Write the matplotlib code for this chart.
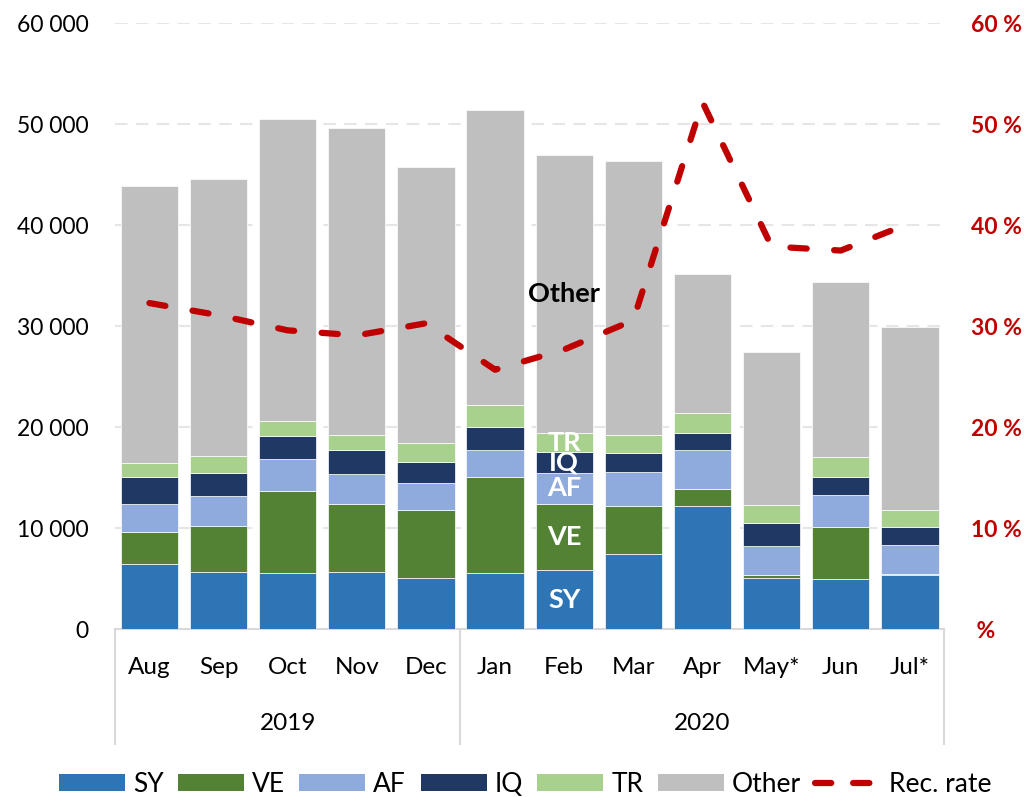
import matplotlib
matplotlib.use("Agg")
import matplotlib.pyplot as plt
from matplotlib.lines import Line2D
from matplotlib.patches import Patch
import numpy as np

plt.rcParams['font.family'] = ['Lato', 'DejaVu Sans']

months = ["Aug", "Sep", "Oct", "Nov", "Dec", "Jan", "Feb", "Mar", "Apr", "May*", "Jun", "Jul*"]
years = ["2019", "2020"]
year_counts = [5, 7]

SY = [6500, 5700, 5570, 5700, 5080, 5570, 5840, 7480, 12200, 5110, 4950, 5380]
VE = [3130, 4560, 8120, 6740, 6700, 9540, 6600, 4700, 1650, 240, 5210, 130]
AF = [2800, 2910, 3170, 2910, 2670, 2640, 3040, 3430, 3890, 2900, 3170, 2870]
IQ = [2670, 2310, 2310, 2400, 2080, 2310, 2050, 1820, 1650, 2280, 1780, 1780]
TR = [1390, 1650, 1480, 1520, 1880, 2150, 1880, 1840, 2040, 1750, 1920, 1650]
TOTAL = [43890, 44550, 50500, 49600, 45800, 51390, 46930, 46340, 35150, 27430, 34390, 29930]
OTHER = [t - (a + b + c + d + e) for t, a, b, c, d, e in zip(TOTAL, SY, VE, AF, IQ, TR)]
REC_RATE = [0.323, 0.311, 0.296, 0.291, 0.303, 0.257, 0.277, 0.306, 0.522, 0.379, 0.375, 0.402]

series_names = ["SY", "VE", "AF", "IQ", "TR", "Other"]
series_vals = [SY, VE, AF, IQ, TR, OTHER]
colors = ["#2E75B6", "#548235", "#8FAADC", "#203864", "#A9D18E", "#BFBFBF"]
line_color = "#C00000"

left_ticks = [0, 10000, 20000, 30000, 40000, 50000, 60000]
left_labels = ["0", "10 000", "20 000", "30 000", "40 000", "50 000", "60 000"]
right_ticks = [0, 0.1, 0.2, 0.3, 0.4, 0.5, 0.6]
right_labels = [" %", "10 %", "20 %", "30 %", "40 %", "50 %", "60 %"]

FS_TICK = 16.5
FS_CAT = 17.5
FS_IN = 19.5
FS_LEG = 19

fig = plt.figure(figsize=(10.30, 7.97), dpi=100)
ax = fig.add_axes([0.1115, 0.2104, 0.8054, 0.7604])

x = np.arange(len(months))
bottom = np.zeros(len(months))
for name, vals, c in zip(series_names, series_vals, colors):
    ax.bar(x, vals, width=0.83, bottom=bottom, color=c, edgecolor="white",
           linewidth=0.5, label=name, zorder=2)
    bottom += np.array(vals)

ax.set_xlim(-0.5, len(months) - 0.5)
ax.set_ylim(0, 60000)
ax.set_yticks(left_ticks)
ax.set_yticklabels(left_labels, fontsize=FS_TICK)
ax.tick_params(axis="y", length=0, pad=19)
ax.set_xticks([])
for t in left_ticks[1:]:
    ax.axhline(t, color="#E6E6E6", lw=1.5, ls=(0, (6, 4)), zorder=0)
for s in ax.spines.values():
    s.set_visible(False)

# in-bar labels on Feb
fi = months.index("Feb")
cum = 0
for name, vals in zip(series_names, series_vals):
    mid = cum + vals[fi] / 2
    cum += vals[fi]
    col = "black" if name == "Other" else "white"
    ax.text(x[fi], mid, name, ha="center", va="center", fontsize=FS_IN,
            fontweight="bold", color=col, zorder=5)

ax2 = ax.twinx()
ax2.plot(x, REC_RATE, color=line_color, lw=4.5, ls=(0, (2.6, 4.4)),
         dash_capstyle="round", solid_capstyle="round", zorder=3)
ax2.set_ylim(0, 0.6)
ax2.set_yticks(right_ticks)
ax2.set_yticklabels(right_labels, fontsize=FS_TICK, fontweight="bold", color=line_color)
ax2.tick_params(axis="y", length=0, pad=19.5)
for s in ax2.spines.values():
    s.set_visible(False)

# two-level category axis
trans = ax.get_xaxis_transform()
gc = "#D9D9D9"
axh = ax.get_position().height * fig.get_figheight() * 100  # axes height in px
def py(px):  # px below axis bottom -> axes fraction
    return -px / axh
ax.add_line(Line2D([-0.5, len(months) - 0.5], [0, 0], transform=trans, color=gc, lw=1.5, clip_on=False, zorder=1))
bounds = [-0.5]
for n in year_counts:
    bounds.append(bounds[-1] + n)
for b in bounds:
    ax.add_line(Line2D([b, b], [0, py(115)], transform=trans, color=gc, lw=1.5, clip_on=False))
for i, m in enumerate(months):
    ax.text(x[i], py(38), m, transform=trans, ha="center", va="center", fontsize=FS_CAT)
for j, yname in enumerate(years):
    ax.text((bounds[j] + bounds[j + 1]) / 2, py(94), yname, transform=trans,
            ha="center", va="center", fontsize=FS_CAT)

handles = [Patch(facecolor=c, edgecolor="none") for c in colors]
handles.append(Line2D([0], [0], color=line_color, lw=4.5, ls=(0, (2.6, 3.5)),
                      dash_capstyle="round"))
fig.legend(handles, series_names + ["Rec. rate"], loc="center",
           bbox_to_anchor=(0.510, 1 - 784 / 797), ncol=7, frameon=False,
           fontsize=FS_LEG, handlelength=2.5, handleheight=0.62, handletextpad=0.3,
           columnspacing=0.55, borderaxespad=0)

fig.savefig("out.png", dpi=100)
